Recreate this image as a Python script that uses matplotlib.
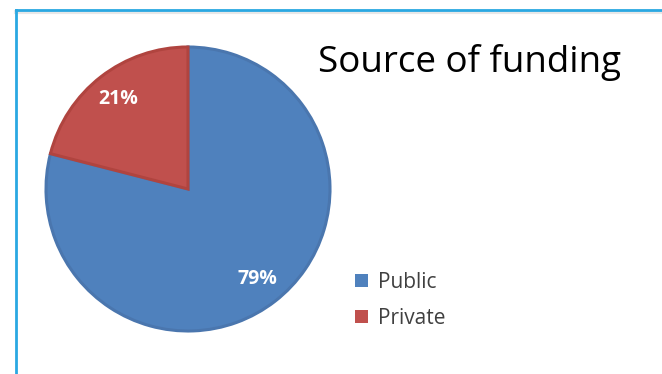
import matplotlib
matplotlib.use("Agg")
import matplotlib.pyplot as plt
from matplotlib.lines import Line2D

categories = ["Public", "Private"]
values = [79, 21]
colors = ["#4f81bd", "#c0504d"]
edge_colors = ["#4a76ae", "#b0443f"]
title = "Source of funding"

W, H = 662, 374
fig = plt.figure(figsize=(W / 100, H / 100), dpi=100)
fig.patch.set_facecolor("white")
ax = fig.add_axes([0, 0, 1, 1])

wedges, texts, autotexts = ax.pie(
    values,
    colors=colors,
    startangle=90,
    counterclock=False,
    center=(188, H - 189),
    radius=142,
    explode=[0, 0.02],
    autopct="%d%%",
    pctdistance=0.8,
    textprops=dict(color="white", fontsize=14, fontweight="bold", family="Open Sans"),
    wedgeprops=dict(linewidth=2.2),
    frame=True,
)
for w, ec in zip(wedges, edge_colors):
    w.set_edgecolor(ec)

ax.set_xlim(0, W)
ax.set_ylim(0, H)
ax.set_aspect("equal")
ax.axis("off")

# title
fig.text(318 / W, 1 - 72 / H, title, fontsize=26.5, family="Open Sans",
         color="black", ha="left", va="baseline")

# legend
leg = ax.legend(
    wedges, categories, loc="upper left",
    bbox_to_anchor=(355 / W, 1 - 272 / H), frameon=False,
    prop=dict(family="Open Sans", size=15),
    handlelength=0.6, handleheight=0.6, handletextpad=0.5,
    labelspacing=0.7, borderaxespad=0, borderpad=0,
)
for t in leg.get_texts():
    t.set_color("#404040")
for h in leg.legend_handles:
    h.set_linewidth(0)

# frame border (light blue) with faint shadow
fig.add_artist(Line2D([16 / W, 1], [1 - 12 / H, 1 - 12 / H], color="#e8e8e8", lw=3, transform=fig.transFigure))
fig.add_artist(Line2D([16 / W, 1], [1 - 10 / H, 1 - 10 / H], color="#2aa8e2", lw=2, transform=fig.transFigure))
fig.add_artist(Line2D([16 / W, 16 / W], [0, 1 - 10 / H], color="#2aa8e2", lw=2, transform=fig.transFigure))

fig.savefig("out.png", dpi=100, facecolor="white")
